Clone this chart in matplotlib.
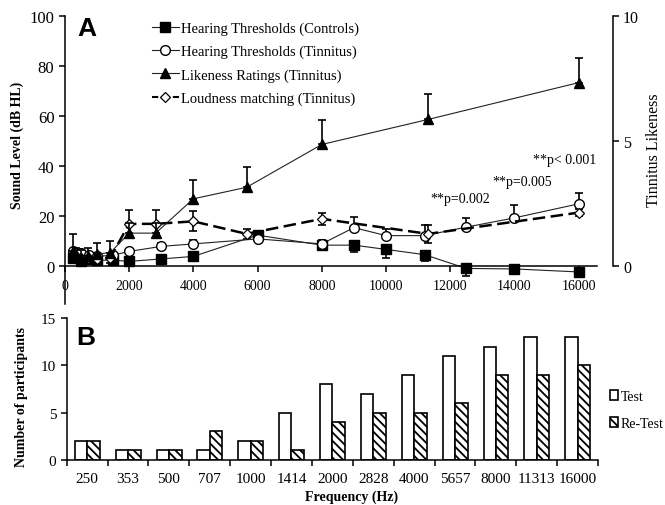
import matplotlib
matplotlib.use('Agg')
import matplotlib.pyplot as plt
from matplotlib.lines import Line2D
from matplotlib.patches import Patch
import numpy as np

plt.rcParams['font.family'] = ['Liberation Serif', 'DejaVu Serif']
plt.rcParams['hatch.linewidth'] = 1.3

# Panel A data: audiometric frequencies (Hz)
audio_freq = [250, 500, 750, 1000, 1500, 2000, 3000, 4000, 6000, 8000,
              9000, 10000, 11200, 12500, 14000, 16000]
controls = [3.5, 2.0, 3.0, 2.5, 2.5, 2.0, 3.0, 4.0, 12.5, 8.5,
            8.5, 6.8, 4.7, -0.8, -1.0, -2.2]
controls_err = [1.5, 1.5, 1.5, 1.5, 1.5, 1.0, 1.0, 1.0, 1.5, 1.5,
                2.7, 3.5, 2.7, 3.0, 1.5, 1.5]
tinnitus = [6.0, 5.5, 4.5, 4.0, 4.5, 6.0, 8.0, 9.0, 11.0, 9.0,
            15.5, 12.3, 12.3, 15.7, 19.4, 25.0]
tinnitus_err = [1.0, 1.0, 1.0, 1.0, 1.0, 1.0, 1.5, 1.5, 1.5, 1.5,
                4.4, 2.7, 4.4, 3.7, 5.3, 4.3]

# Likeness / loudness matching frequencies (Hz)
match_freq = [250, 353, 500, 707, 1000, 1414, 2000, 2828, 4000, 5657,
              8000, 11313, 16000]
likeness = [0.6, 0.45, 0.35, 0.4, 0.5, 0.55, 1.33, 1.33, 2.7, 3.16,
            4.87, 5.87, 7.34]
likeness_err = [0.7, 0.3, 0.3, 0.35, 0.45, 0.45, 0.4, 0.4, 0.74, 0.8,
                0.98, 1.03, 1.0]
loudness = [5.0, 4.0, 3.5, 3.5, 3.0, 3.5, 17.0, 17.0, 18.0, 13.0,
            19.0, 13.0, 21.5]
loudness_err = [2.0, 2.0, 2.0, 2.0, 2.0, 2.0, 5.5, 5.5, 4.0, 2.0,
                2.5, 3.5, 1.5]

# Panel B data
bar_labels = ['250', '353', '500', '707', '1000', '1414', '2000', '2828',
              '4000', '5657', '8000', '11313', '16000']
test_counts = [2, 1, 1, 1, 2, 5, 8, 7, 9, 11, 12, 13, 13]
retest_counts = [2, 1, 1, 3, 2, 1, 4, 5, 5, 6, 9, 9, 10]

W, H = 665, 506


def box(x0, y0, x1, y1):
    return [x0 / W, 1 - y1 / H, (x1 - x0) / W, (y1 - y0) / H]


fig = plt.figure(figsize=(W / 100, H / 100), dpi=100)

# ---------------- Panel A ----------------
ax = fig.add_axes(box(64.9, 17, 596.7, 305))
ax.set_xlim(0, 16560)
ax.set_ylim(-15, 100)
ax.spines['top'].set_visible(False)
ax.spines['right'].set_visible(False)
ax.spines['bottom'].set_position(('data', 0))
for s in ['left', 'bottom']:
    ax.spines[s].set_linewidth(1.1)
ax.set_xticks(range(0, 16001, 2000))
ax.set_yticks(range(0, 101, 20))
ax.tick_params(direction='out', length=4, width=1.1, labelsize=12)
ax.tick_params(axis='x', pad=5, labelsize=10)

line_kw = dict(color='#222222', lw=0.8)
err_kw = dict(fmt='none', ecolor='black', elinewidth=1.2, capsize=3, capthick=1.2)

n = len(audio_freq)
ax.errorbar(audio_freq, controls, yerr=[controls_err, [0] * n], **err_kw)
ax.errorbar(audio_freq, tinnitus, yerr=[[0.5] * n, tinnitus_err], **err_kw)
ax.errorbar(match_freq, loudness, yerr=loudness_err, **err_kw)
ax.plot(audio_freq, controls, marker='s', ms=6.5, mfc='black', mec='black', **line_kw)
ax.plot(audio_freq, tinnitus, marker='o', ms=7, mfc='white', mec='black', mew=1.0, **line_kw)
ax.plot(match_freq, loudness, color='black', lw=1.8, dashes=(5, 2.2),
        marker='D', ms=5, mfc='white', mec='black', mew=0.9)

ax.text(11374, 27, '**p=0.002', fontsize=10, va='center')
ax.text(13305, 34, '**p=0.005', fontsize=10, va='center')
ax.text(14583, 42.7, '**p< 0.001', fontsize=10, va='center')

# right axis: likeness 0-10
ax2 = ax.twinx()
ax2.set_ylim(-1.5, 10)
for s in ['top', 'left', 'bottom']:
    ax2.spines[s].set_visible(False)
ax2.spines['right'].set_position(('outward', 11.5))
ax2.spines['right'].set_bounds(0, 10)
ax2.spines['right'].set_linewidth(1.1)
ax2.set_yticks([0, 5, 10])
ax2.tick_params(direction='out', length=4, width=1.1, labelsize=11.5)
m = len(match_freq)
ax2.errorbar(match_freq, likeness, yerr=[[0] * m, likeness_err], **err_kw)
ax2.plot(match_freq, likeness, marker='^', ms=7, mfc='black', mec='black', **line_kw)

handles = [
    Line2D([], [], marker='s', ms=6.5, mfc='black', mec='black', **line_kw),
    Line2D([], [], marker='o', ms=7, mfc='white', mec='black', **line_kw),
    Line2D([], [], marker='^', ms=7, mfc='black', mec='black', **line_kw),
    Line2D([], [], color='black', lw=1.5, dashes=(3, 2), marker='D', ms=5,
           mfc='white', mec='black', mew=0.9),
]
labels = ['Hearing Thresholds (Controls)', 'Hearing Thresholds (Tinnitus)',
          'Likeness Ratings (Tinnitus)', 'Loudness matching (Tinnitus)']
ax2.legend(handles, labels, loc='upper left', bbox_to_anchor=(145 / W, 1 - 15 / H),
           bbox_transform=fig.transFigure, frameon=False, borderpad=0,
           handlelength=1.8, handletextpad=0.2, labelspacing=0.68, fontsize=10.5)

fig.text(77 / W, 1 - 36 / H, 'A', fontsize=19, fontweight='bold',
         family='Liberation Sans')
fig.text(17 / W, 1 - 145 / H, 'Sound Level (dB HL)', rotation=90, fontsize=10,
         fontweight='bold', ha='center', va='center')
fig.text(654 / W, 1 - 150 / H, 'Tinnitus Likeness', rotation=90, fontsize=11.5,
         ha='center', va='center')

# ---------------- Panel B ----------------
bx = fig.add_axes(box(66.7, 319.3, 598, 460.7))
xpos = np.arange(len(bar_labels))
bx.bar(xpos - 0.15, test_counts, width=0.3, color='white', edgecolor='black', lw=1.2)
bx.bar(xpos + 0.155, retest_counts, width=0.31, color='white', edgecolor='black',
       lw=1.2, hatch='\\\\\\\\')
bx.set_xlim(-0.5, 12.5)
bx.set_ylim(0, 15)
bx.spines['top'].set_visible(False)
bx.spines['right'].set_visible(False)
for s in ['left', 'bottom']:
    bx.spines[s].set_linewidth(1.1)
bx.set_yticks([0, 5, 10, 15])
bx.set_xticks(np.arange(-0.5, 12.6, 1))
bx.set_xticklabels([])
bx.set_xticks(xpos, minor=True)
bx.set_xticklabels(bar_labels, minor=True)
bx.tick_params(direction='out', length=4, width=1.1, labelsize=11)
bx.tick_params(axis='x', which='minor', length=0, pad=9, labelsize=11)

bx.legend([Patch(facecolor='white', edgecolor='black', lw=1.2),
           Patch(facecolor='white', edgecolor='black', lw=1.2, hatch='\\\\\\\\')],
          ['Test', 'Re-Test'], loc='upper left', bbox_to_anchor=(603 / W, 1 - 384 / H),
          bbox_transform=fig.transFigure, frameon=False, borderpad=0,
          handlelength=0.6, handleheight=0.7, handletextpad=0.15,
          labelspacing=1.0, fontsize=10)

fig.text(76 / W, 1 - 345 / H, 'B', fontsize=19, fontweight='bold',
         family='Liberation Sans')
fig.text(22 / W, 1 - 397 / H, 'Number of participants', rotation=90, fontsize=10,
         fontweight='bold', ha='center', va='center')
fig.text(352 / W, 1 - 497 / H, 'Frequency (Hz)', fontsize=10, fontweight='bold',
         ha='center', va='center')

fig.savefig('out.png', dpi=100)
